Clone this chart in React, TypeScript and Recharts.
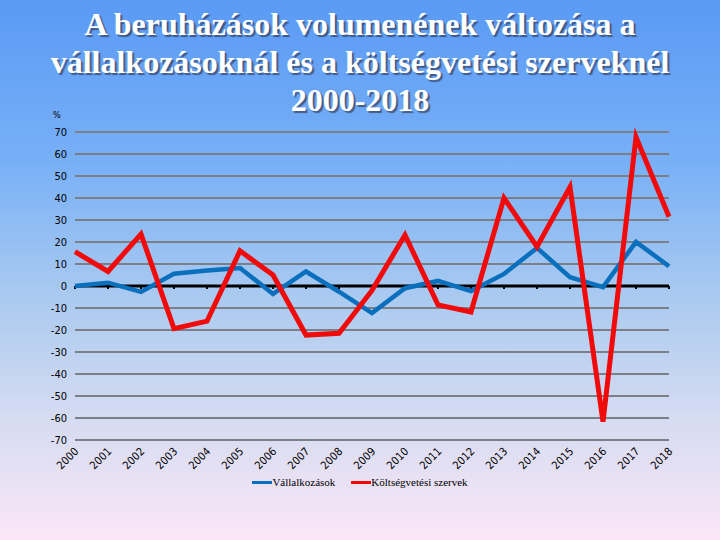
import React from 'react';
import { LineChart, Line, XAxis, YAxis, CartesianGrid, ReferenceLine, Legend } from 'recharts';

const years = ['2000', '2001', '2002', '2003', '2004', '2005', '2006', '2007', '2008', '2009', '2010', '2011', '2012', '2013', '2014', '2015', '2016', '2017', '2018'];
const vallalkozasok = [0, 1.5, -2.7, 5.6, 7, 8.2, -3.6, 6.6, -2.6, -12.3, -1, 2.3, -2.3, 5.5, 17.3, 4, -0.5, 20, 9];
const koltsegvetesi = [15.6, 6.6, 23.6, -19.4, -16, 16, 5, -22.3, -21.5, -2, 23.2, -8.6, -11.8, 40, 17.9, 45, -61.7, 67.7, 31.5];
const yTicks = [-70, -60, -50, -40, -30, -20, -10, 0, 10, 20, 30, 40, 50, 60, 70];
const seriesNames = ['Vállalkozások', 'Költségvetési szervek'];
const seriesColors = ['#0a6fbd', '#f00a0a'];
const titleLines = ['A beruházások volumenének változása a', 'vállalkozásoknál és a költségvetési szerveknél', '2000-2018'];

const data = years.map((y, i) => ({ year: y, v: vallalkozasok[i], k: koltsegvetesi[i] }));

const narrow = "'Liberation Sans Narrow', 'DejaVu Sans Condensed', 'Liberation Sans', sans-serif";

const renderXTick = (props: any) => {
  const { x, y, payload } = props;
  return (
    <g transform={`translate(${x + 2},${y + 2})`}>
      <g transform="rotate(-45)">
        <text x={0} y={0} textAnchor="end" dominantBaseline="middle" fontSize={11} fontFamily={narrow} fill="#000">
          {payload.value}
        </text>
      </g>
    </g>
  );
};

const LegendContent = () => (
  <div style={{ display: 'flex', justifyContent: 'center', alignItems: 'center', fontFamily: "'Liberation Serif', 'Times New Roman', serif", fontSize: 11, color: '#000' }}>
    {seriesNames.map((n, i) => (
      <div key={n} style={{ display: 'flex', alignItems: 'center', marginRight: i === 0 ? 16 : 0 }}>
        <div style={{ width: 20, height: 3, background: seriesColors[i] }} />
        <span>{n}</span>
      </div>
    ))}
  </div>
);

export default function App() {
  return (
    <div style={{ position: 'fixed', left: 0, top: 0, width: 720, height: 540, overflow: 'hidden', background: 'linear-gradient(180deg, #5a9af5 0%, #78b0f7 30%, #aacaf0 55%, #d6dcf2 78%, #fbe6f7 100%)' }}>
      <div style={{ position: 'absolute', left: 0, top: 5, width: 720, textAlign: 'center', fontFamily: "'Liberation Serif', 'Times New Roman', serif", fontWeight: 'bold', fontSize: 32, lineHeight: '38px', color: '#fff', textShadow: '2px 2px 1px rgba(40,40,60,0.6)' }}>
        {titleLines.map((t) => (
          <div key={t}>{t}</div>
        ))}
      </div>
      <div style={{ position: 'absolute', left: 53, top: 110, fontFamily: narrow, fontSize: 9, color: '#000' }}>%</div>
      <div style={{ position: 'absolute', left: 0, top: 0 }}>
        <LineChart width={720} height={540} data={data} margin={{ top: 132, right: 51, bottom: 60, left: 0 }}>
          <CartesianGrid horizontal={true} vertical={false} stroke="#7a7f88" strokeWidth={2} />
          <XAxis dataKey="year" axisLine={false} tickLine={false} tick={renderXTick} interval={0} height={40} />
          <YAxis domain={[-70, 70]} ticks={yTicks} axisLine={false} tickLine={false} width={75} tickMargin={2} tick={{ fontSize: 11, fontFamily: narrow, fill: '#000' }} interval={0} />
          <ReferenceLine y={0} stroke="#000" strokeWidth={3} />
          {years.map((yr) => (
            <ReferenceLine key={yr} segment={[{ x: yr, y: 0 }, { x: yr, y: -1.4 }]} stroke="#000" strokeWidth={2} />
          ))}
          <Line type="linear" dataKey="v" name={seriesNames[0]} stroke={seriesColors[0]} strokeWidth={4.5} dot={false} isAnimationActive={false} />
          <Line type="linear" dataKey="k" name={seriesNames[1]} stroke={seriesColors[1]} strokeWidth={5} dot={false} isAnimationActive={false} />
          <Legend layout="horizontal" verticalAlign="middle" align="center" wrapperStyle={{ top: 476, left: 0, width: 720 }} content={<LegendContent />} />
        </LineChart>
      </div>
    </div>
  );
}
